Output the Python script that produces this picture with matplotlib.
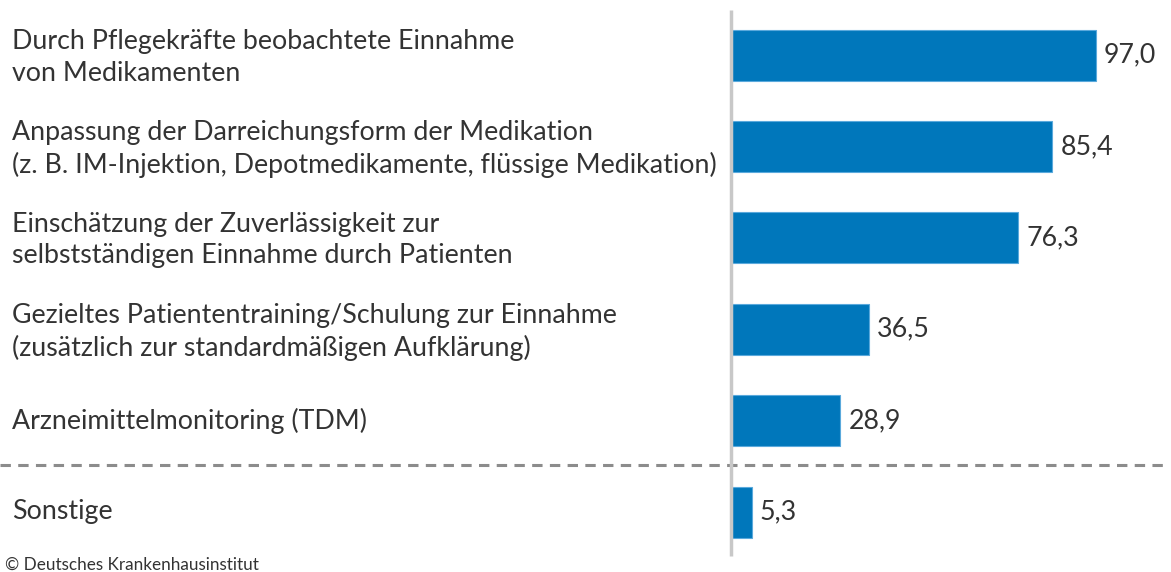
import matplotlib
matplotlib.use("Agg")
import matplotlib.pyplot as plt

categories = [
    "Durch Pflegekräfte beobachtete Einnahme\nvon Medikamenten",
    "Anpassung der Darreichungsform der Medikation\n(z. B. IM-Injektion, Depotmedikamente, flüssige Medikation)",
    "Einschätzung der Zuverlässigkeit zur\nselbstständigen Einnahme durch Patienten",
    "Gezieltes Patiententraining/Schulung zur Einnahme\n(zusätzlich zur standardmäßigen Aufklärung)",
    "Arzneimittelmonitoring (TDM)",
    "Sonstige",
]
values = [97.0, 85.4, 76.3, 36.5, 28.9, 5.3]
value_labels = ["97,0", "85,4", "76,3", "36,5", "28,9", "5,3"]

W, H = 1171, 572
fig = plt.figure(figsize=(W / 100, H / 100), dpi=100)
ax = fig.add_axes([0, 0, 1, 1])
ax.set_axis_off()

px_per_unit = 3.75
x0 = 732
ax.set_xlim(-x0 / px_per_unit, (W - x0) / px_per_unit)
spacing = 91.4
top = 55
ax.set_ylim((H - top) / spacing, -top / spacing)

font = "Lato"
txt_color = "#333333"
bar_color = "#0077bb"
fs = 19.3

pos = list(range(len(values)))
ax.barh(pos, values, height=51 / spacing, color=bar_color,
        edgecolor="#5aa9dc", linewidth=0.8, zorder=2)

for p, v, lab, cat in zip(pos, values, value_labels, categories):
    ax.text(v + 8 / px_per_unit, p, lab, va="center", ha="left",
            fontsize=fs, family=font, color=txt_color)
    dy = 2.5 / spacing if "\n" in cat else 0
    ax.text(-(x0 - 12) / px_per_unit, p + dy, cat, va="center", ha="left",
            fontsize=fs, family=font, color=txt_color, linespacing=1.32)

# vertical axis line
ax.plot([-1 / px_per_unit, -1 / px_per_unit],
        [-(top - 10) / spacing, (556 - top) / spacing],
        color="#c8c8c8", lw=2.5, zorder=3, solid_capstyle="butt")

# dashed separator
ax.plot([-x0 / px_per_unit, (1165 - x0) / px_per_unit],
        [(465 - top) / spacing] * 2,
        color="#8c8c8c", lw=2.2, ls=(0, (3.4, 2.4)), zorder=1)

fig.text(5 / W, 1 - 565 / H, "© Deutsches Krankenhausinstitut",
         fontsize=12.3, family=font, color=txt_color, va="center", ha="left")

fig.savefig("out.png", dpi=100)
